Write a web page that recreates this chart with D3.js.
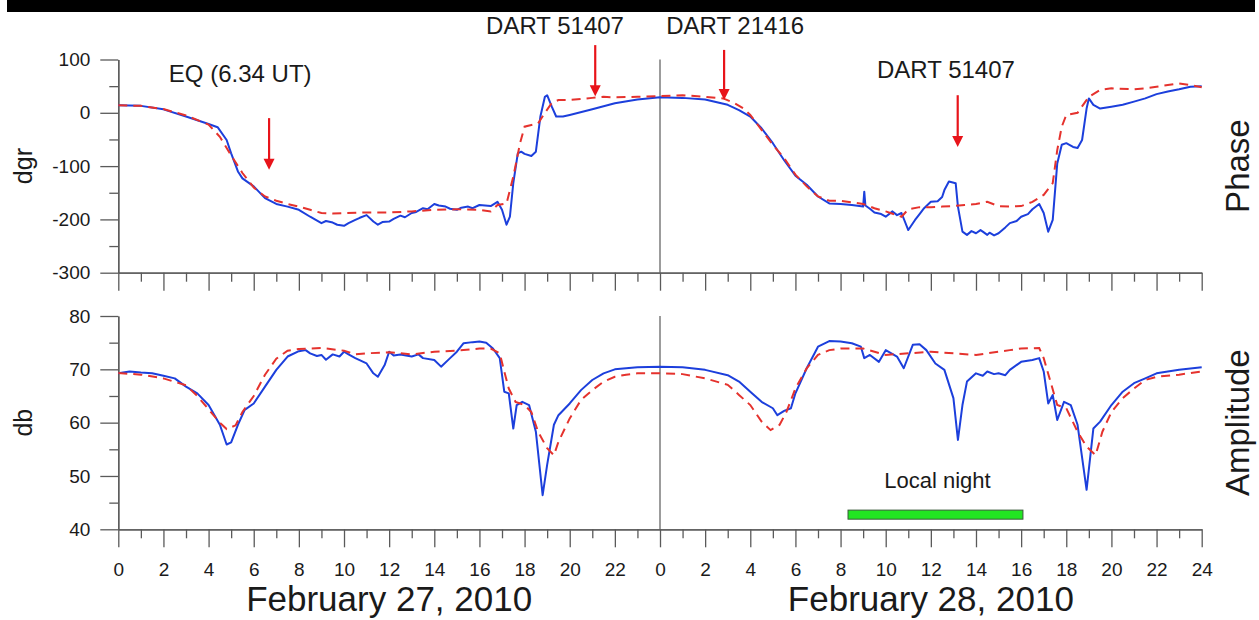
<!DOCTYPE html>
<html>
<head>
<meta charset="utf-8">
<script src="https://cdn.jsdelivr.net/npm/d3@7"></script>
<style>
  body { margin: 0; background: #fff; }
  svg { display: block; font-family: "Liberation Sans", Arial, sans-serif; }
</style>
</head>
<body>
<script>
// hours run 0..48 over the two days
var phaseObserved = [[0,14],[1,13],[2,6.5],[3,-7],[4,-21],[4.4,-27],[4.8,-51],[5,-76],[5.3,-110],[5.5,-123],[6,-138],[6.5,-160],[7,-171],[7.5,-176],[8,-182],[8.5,-195],[9,-207],[9.2,-203],[9.5,-206],[9.7,-210],[10,-212],[10.2,-207],[10.5,-201],[10.7,-197],[11,-192],[11.3,-204],[11.5,-210],[11.7,-205],[12,-204],[12.2,-199],[12.5,-193],[12.7,-196],[13,-188],[13.2,-186],[13.5,-179],[13.7,-181],[14,-171],[14.2,-174],[14.5,-176],[14.7,-180],[15,-182],[15.2,-178],[15.5,-176],[15.7,-179],[16,-173],[16.5,-175],[16.8,-167],[17,-182],[17.2,-210],[17.35,-195],[17.5,-132],[17.7,-76],[17.85,-73],[18,-77],[18.3,-81],[18.5,-73],[18.7,-7],[18.9,30],[19,33],[19.2,12],[19.4,-7],[19.7,-7],[20,-4],[21,6.6],[22,18],[23,25],[24,29],[25,28],[26,25],[27,15],[27.5,5],[28,-7],[28.5,-29],[29,-57],[29.5,-89],[30,-118],[30.5,-135],[31,-157],[31.5,-170],[32,-171],[32.5,-173],[33,-176],[33.05,-148],[33.1,-174],[33.3,-180],[33.5,-187],[33.8,-190],[34,-195],[34.3,-185],[34.5,-192],[34.7,-188],[35,-220],[35.3,-201],[35.5,-190],[35.7,-179],[36,-167],[36.3,-166],[36.5,-158],[36.6,-145],[36.8,-129],[37.1,-132],[37.2,-176],[37.4,-223],[37.6,-229],[37.8,-222],[38,-226],[38.2,-220],[38.3,-223],[38.5,-229],[38.6,-225],[38.8,-230],[39,-226],[39.3,-215],[39.5,-207],[39.8,-203],[40,-195],[40.3,-190],[40.5,-181],[40.8,-171],[41,-188],[41.2,-223],[41.4,-201],[41.6,-95],[41.8,-60],[42,-57],[42.3,-64],[42.5,-66],[42.7,-51],[42.9,8],[43,27],[43.2,15],[43.5,8],[44,11.5],[44.5,15],[45,21],[45.5,27],[46,35],[46.5,40],[47,44],[47.5,49],[48,50]];

var phaseModel = [[0,14],[1,13],[2,7],[3,-5],[4,-22],[4.5,-45],[5,-80],[5.5,-113],[6,-140],[6.5,-157],[7,-165],[7.5,-171],[8,-176],[8.5,-182],[9,-188],[9.5,-189],[10,-188],[11,-187],[12,-187],[13,-185],[14,-182],[15,-181],[16,-182],[16.5,-185],[16.8,-173],[17.2,-170],[17.5,-120],[17.8,-57],[18,-26],[18.3,-23],[18.6,-20],[18.9,0],[19.2,18],[19.5,24],[20,24],[21,28],[21.5,30],[22,29],[23,30],[24,31.5],[25,33],[26,30],[26.8,27],[27.3,18],[27.7,8],[28,-4],[28.5,-32],[29,-60],[29.5,-85],[30,-116],[30.5,-138],[31,-157],[31.5,-165],[32,-165],[33,-171],[33.5,-179],[34,-185],[34.7,-195],[35,-181],[35.5,-177],[36,-177],[36.5,-176],[37,-175],[37.5,-173],[38,-171],[38.5,-167],[39,-175],[39.5,-176],[40,-175],[40.5,-167],[41,-154],[41.4,-132],[41.6,-70],[41.8,-26],[42,-4],[42.5,0],[43,30],[43.5,43],[44,46],[45,44],[45.5,46],[46,49],[46.5,52],[47,55],[47.5,52],[48,48]];

var ampObserved = [[0,69.25],[0.5,69.6],[1,69.4],[1.5,69.25],[2,68.8],[2.5,68.3],[3,66.75],[3.5,65.5],[4,63.3],[4.5,59.6],[4.8,55.9],[5,56.3],[5.3,59.6],[5.6,62.4],[6,63.6],[6.5,66.75],[7,69.9],[7.5,72.4],[8,73.4],[8.3,73.6],[8.5,73],[8.8,72.5],[9,72.7],[9.2,71.8],[9.5,72.8],[9.8,72.4],[10,73.3],[10.2,72.8],[10.5,72.1],[11,71.1],[11.3,69.25],[11.5,68.6],[11.8,70.8],[12,73.3],[12.2,72.6],[12.5,72.8],[13,72.4],[13.3,72.8],[13.5,72.1],[14,71.75],[14.3,70.5],[14.7,72.1],[15,73.3],[15.3,74.9],[15.7,75.1],[16,75.2],[16.3,75],[16.6,73.9],[16.9,72.1],[17.1,65.8],[17.3,65.5],[17.5,58.9],[17.65,63.3],[17.9,63.9],[18.2,63.3],[18.5,58.3],[18.8,46.4],[19,52.1],[19.3,59.6],[19.5,61.4],[20,63.6],[20.5,66.1],[21,68],[21.5,69.25],[22,70],[23,70.4],[24,70.5],[25,70.4],[26,69.9],[27,68.9],[27.5,67.7],[28,65.8],[28.5,63.9],[29,62.7],[29.2,61.4],[29.5,62.2],[29.8,62.7],[30,65.5],[30.5,70.2],[31,74.25],[31.5,75.3],[32,75.2],[32.5,74.9],[32.9,74.25],[33.05,72.1],[33.3,72.7],[33.7,71.4],[34,73.6],[34.5,72.4],[34.8,70.2],[35.2,74.6],[35.5,74.7],[35.8,73.6],[36.2,71.1],[36.6,69.9],[37,64.6],[37.2,56.75],[37.4,63.3],[37.6,67.7],[38,69.25],[38.3,68.8],[38.5,69.6],[38.8,69.1],[39,69.25],[39.3,68.9],[39.5,69.9],[40,71.4],[40.5,71.75],[40.8,72.1],[41,69.6],[41.2,63.6],[41.4,65.2],[41.6,60.5],[41.9,63.9],[42.2,63.3],[42.5,59.6],[42.9,47.4],[43.2,58.9],[43.5,60.2],[44,63.3],[44.5,65.8],[45,67.4],[45.5,68.3],[46,69.25],[47,69.9],[48,70.4]];

var ampModel = [[0,69.3],[1,69],[2,68.3],[3,67],[3.5,65],[4,62.5],[4.5,60],[4.8,58.8],[5.2,59.5],[5.5,62],[6,65],[6.5,69],[7,72],[7.5,73.5],[8,73.8],[9,74],[10,73.5],[10.5,72.8],[11,73],[12,73.2],[13,72.8],[14,73.3],[15,73.5],[16,73.9],[16.5,73.9],[16.9,73],[17.1,69.6],[17.3,66.4],[17.6,63.9],[18,63.3],[18.3,62],[18.6,58.3],[19,55.2],[19.3,53.9],[19.5,56.4],[20,60.8],[20.5,64.25],[21,66.1],[21.5,67.7],[22,68.6],[22.5,69],[23,69.25],[24,69.25],[25,69.1],[26,68.3],[27,67.1],[27.5,65.2],[28,63.3],[28.5,60.2],[28.9,58.6],[29.3,59.6],[29.6,62],[30,66.4],[30.5,70.2],[31,72.7],[31.5,73.6],[32,73.9],[33,73.9],[34,72.7],[35,73],[36,73.3],[37,73],[38,72.7],[38.5,73],[39,73.3],[39.5,73.6],[40,73.9],[40.8,74],[41,72.1],[41.3,67.7],[41.6,63.3],[42,62.7],[42.5,58.3],[42.9,55.5],[43.3,53.9],[43.6,58.3],[44,62],[44.5,64.6],[45,66.4],[45.5,68],[46,68.6],[47,69],[48,69.6]];

var phaseTicks = [-300, -200, -100, 0, 100];
var ampTicks = [40, 50, 60, 70, 80];
var dayLabels = [["February 27, 2010", 12], ["February 28, 2010", 36]];

// arrows: label, hour, label baseline value, arrow start, arrow tip (phase units)
var arrows = [
  { label: "EQ (6.34 UT)", labelHour: 5.4, textAt: 58, hour: 6.68, from: -10, to: -107 },
  { label: "DART 51407", labelHour: 19.35, textAt: 147, hour: 21.13, from: 127, to: 31 },
  { label: "DART 21416", labelHour: 27.33, textAt: 147, hour: 26.84, from: 118, to: 24 },
  { label: "DART 51407", labelHour: 36.67, textAt: 65, hour: 37.19, from: 33, to: -64 }
];
var night = { label: "Local night", start: 32.33, end: 40.08, top: 43.6, bottom: 41.9, textAt: 47.8 };

var width = 1259, height = 620;
var axisColor = "#5a5a5a";
var font = "'Liberation Sans', Arial, sans-serif";

var svg = d3.select("body").append("svg")
  .attr("width", width)
  .attr("height", height);

svg.append("rect")
  .attr("x", 7).attr("y", 0)
  .attr("width", 1248).attr("height", 12)
  .attr("fill", "#000");

var x = d3.scaleLinear().domain([0, 48]).range([118.3, 1201.7]);
var yPhase = d3.scaleLinear().domain([-300, 100]).range([272.7, 59.5]);
var yAmp = d3.scaleLinear().domain([40, 80]).range([529.3, 316]);

function styleAxis(sel) {
  sel.attr("font-family", font).attr("font-size", 19);
  sel.select(".domain").attr("stroke", axisColor).attr("stroke-width", 1.3);
  sel.selectAll(".tick line").attr("stroke", axisColor).attr("stroke-width", 1.3);
  sel.selectAll(".tick text").attr("fill", "#1a1a1a");
}

function drawPanel(y, ticks, minorStep, observed, model, showHours, unit, name) {
  var y0 = y.range()[0], y1 = y.range()[1];

  // x axis: minor every hour, major every 2 hours
  svg.append("g")
    .attr("transform", "translate(0," + y0 + ")")
    .call(d3.axisBottom(x).tickValues(d3.range(1, 48, 2)).tickSize(9).tickSizeOuter(0).tickFormat(""))
    .call(styleAxis);
  svg.append("g")
    .attr("transform", "translate(0," + y0 + ")")
    .call(d3.axisBottom(x).tickValues(d3.range(0, 49, 2)).tickSize(18).tickSizeOuter(0).tickPadding(15)
      .tickFormat(function(d){ return showHours ? (d === 48 ? 24 : d % 24) : ""; }))
    .call(styleAxis);

  // y axis
  var minor = d3.range(ticks[0] + minorStep, ticks[ticks.length - 1], minorStep * 2);
  svg.append("g")
    .attr("transform", "translate(" + x(0) + ",0)")
    .call(d3.axisLeft(y).tickValues(minor).tickSize(9).tickSizeOuter(0).tickFormat(""))
    .call(styleAxis);
  svg.append("g")
    .attr("transform", "translate(" + x(0) + ",0)")
    .call(d3.axisLeft(y).tickValues(ticks).tickSize(18).tickSizeOuter(0).tickPadding(10)
      .tickFormat(function(d){ return String(d); }))
    .call(styleAxis);

  // day separator
  svg.append("line")
    .attr("x1", x(24)).attr("x2", x(24))
    .attr("y1", y1).attr("y2", y0)
    .attr("stroke", axisColor).attr("stroke-width", 1.2);

  var line = d3.line()
    .x(function(d){ return x(d[0]); })
    .y(function(d){ return y(d[1]); });

  svg.append("path")
    .datum(observed)
    .attr("d", line)
    .attr("fill", "none")
    .attr("stroke", "#1c3fdc")
    .attr("stroke-width", 2)
    .attr("stroke-linejoin", "round");

  svg.append("path")
    .datum(model)
    .attr("d", line)
    .attr("fill", "none")
    .attr("stroke", "#e5322d")
    .attr("stroke-width", 2)
    .attr("stroke-dasharray", "9,6");

  // axis titles
  var yc = (y0 + y1) / 2;
  svg.append("text")
    .attr("transform", "translate(32," + yc + ") rotate(-90)")
    .attr("text-anchor", "middle")
    .attr("font-size", 25)
    .attr("fill", "#1a1a1a")
    .text(unit);
  svg.append("text")
    .attr("transform", "translate(1249," + yc + ") rotate(-90)")
    .attr("text-anchor", "middle")
    .attr("font-size", 33)
    .attr("fill", "#1a1a1a")
    .text(name);
}

drawPanel(yPhase, phaseTicks, 50, phaseObserved, phaseModel, false, "dgr", "Phase");
drawPanel(yAmp, ampTicks, 5, ampObserved, ampModel, true, "db", "Amplitude");

// annotations with red arrows
arrows.forEach(function(a) {
  svg.append("text")
    .attr("x", x(a.labelHour)).attr("y", yPhase(a.textAt))
    .attr("text-anchor", "middle")
    .attr("font-size", 24)
    .attr("fill", "#1a1a1a")
    .text(a.label);
  var ax = x(a.hour), top = yPhase(a.from), tip = yPhase(a.to);
  svg.append("line")
    .attr("x1", ax).attr("x2", ax)
    .attr("y1", top).attr("y2", tip - 8)
    .attr("stroke", "#e8141a").attr("stroke-width", 2.2);
  svg.append("path")
    .attr("d", "M" + (ax - 5.5) + "," + (tip - 11) + "L" + (ax + 5.5) + "," + (tip - 11) + "L" + ax + "," + tip + "Z")
    .attr("fill", "#e8141a");
});

// local night bar
svg.append("rect")
  .attr("x", x(night.start)).attr("y", yAmp(night.top))
  .attr("width", x(night.end) - x(night.start))
  .attr("height", yAmp(night.bottom) - yAmp(night.top))
  .attr("fill", "#22e622")
  .attr("stroke", "#3a5a3a").attr("stroke-width", 1);
svg.append("text")
  .attr("x", x((night.start + night.end) / 2) + 2).attr("y", yAmp(night.textAt))
  .attr("text-anchor", "middle")
  .attr("font-size", 22)
  .attr("fill", "#1a1a1a")
  .text(night.label);

// dates under the axis
svg.selectAll(".day")
  .data(dayLabels)
  .enter().append("text")
  .attr("class", "day")
  .attr("x", function(d){ return x(d[1]); })
  .attr("y", 611)
  .attr("text-anchor", "middle")
  .attr("font-size", 35)
  .attr("fill", "#1a1a1a")
  .text(function(d){ return d[0]; });
</script>
</body>
</html>
